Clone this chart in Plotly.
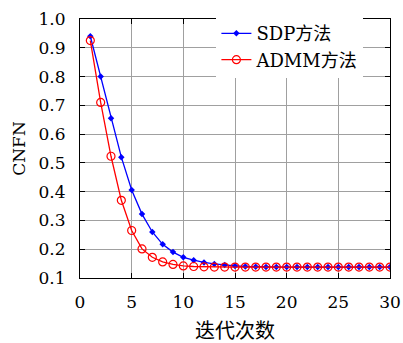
import plotly.graph_objects as go

iters = list(range(1, 31))
sdp = [0.940, 0.800, 0.655, 0.520, 0.406, 0.322, 0.260, 0.217, 0.190, 0.172,
       0.162, 0.154, 0.149, 0.145, 0.142, 0.140, 0.139, 0.138, 0.138, 0.138,
       0.138, 0.138, 0.138, 0.138, 0.138, 0.138, 0.138, 0.138, 0.138, 0.138]
admm = [0.925, 0.710, 0.523, 0.370, 0.265, 0.201, 0.172, 0.156, 0.147, 0.142,
        0.140, 0.139, 0.138, 0.138, 0.138, 0.138, 0.138, 0.138, 0.138, 0.138,
        0.138, 0.138, 0.138, 0.138, 0.138, 0.138, 0.138, 0.138, 0.138, 0.138]
x_ticks = [0, 5, 10, 15, 20, 25, 30]
y_ticks = [0.1, 0.2, 0.3, 0.4, 0.5, 0.6, 0.7, 0.8, 0.9, 1.0]

serif = "DejaVu Serif, Noto Sans CJK SC"

fig = go.Figure()
fig.add_trace(go.Scatter(x=iters, y=sdp, mode="lines+markers", name="SDP方法",
                         line=dict(color="#0000ff", width=1.3),
                         marker=dict(symbol="diamond", size=5, color="#0000ff")))
fig.add_trace(go.Scatter(x=iters, y=admm, mode="lines+markers", name="ADMM方法",
                         line=dict(color="#ff0000", width=1.3),
                         marker=dict(symbol="circle-open", size=8, color="#ff0000",
                                     line=dict(width=1.2))))

axis_common = dict(showline=True, linecolor="black", linewidth=1.2, mirror="ticks",
                   ticks="inside", ticklen=5, tickcolor="black",
                   showgrid=True, gridcolor="#a0a0a0", gridwidth=1,
                   zeroline=False, tickfont=dict(family=serif, size=17, color="black"))

fig.update_xaxes(range=[0, 30], tickvals=x_ticks, ticktext=[str(v) for v in x_ticks],
                 ticklabelstandoff=8,
                 title=dict(text="迭代次数", font=dict(family=serif, size=20, color="black"),
                            standoff=14),
                 **axis_common)
fig.update_yaxes(range=[0.1, 1.0], tickvals=y_ticks, ticktext=[f"{v:.1f}" for v in y_ticks],
                 ticklabelstandoff=10,
                 title=dict(text="CNFN", font=dict(family=serif, size=17, color="black"),
                            standoff=8),
                 **axis_common)

fig.update_layout(width=403, height=343, margin=dict(l=80, r=13, t=19, b=65, autoexpand=False),
                  plot_bgcolor="white", paper_bgcolor="white",
                  font=dict(family=serif, size=17, color="black"),
                  legend=dict(x=0.44, y=1.015, xanchor="left", yanchor="top",
                              bgcolor="white", borderwidth=0,
                              font=dict(family=serif, size=18, color="black"),
                              tracegroupgap=0, itemwidth=30))

fig.write_html("out.html", config={"displayModeBar": False},
               post_script="document.body.style.margin='0';")
